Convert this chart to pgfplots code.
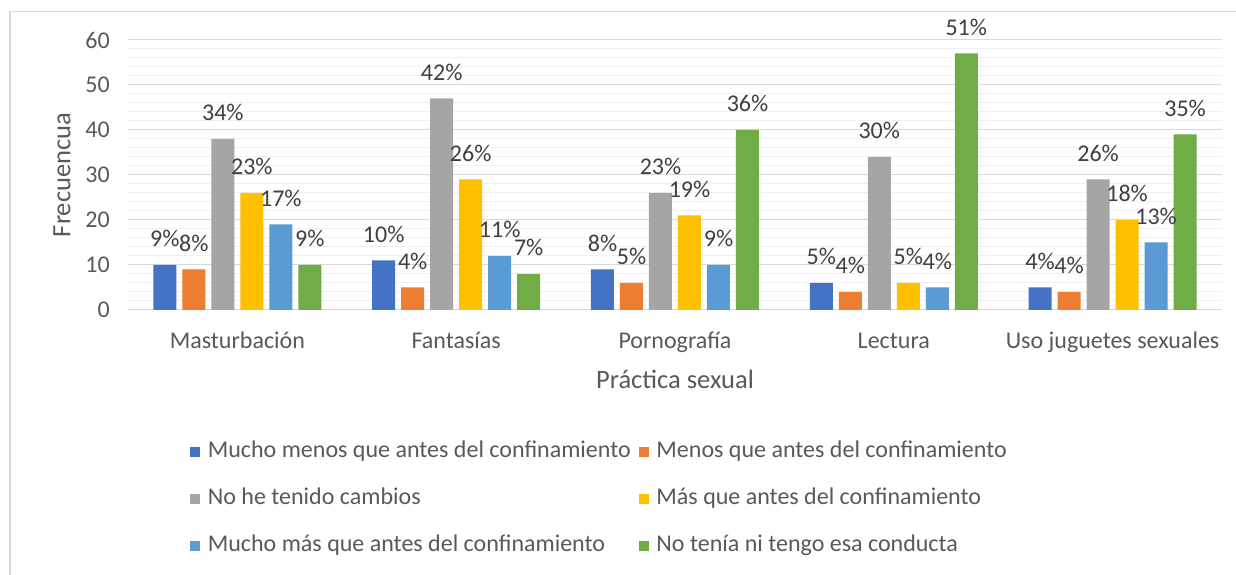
\documentclass[border=0pt]{standalone}
\usepackage{pgfplots}
\usepackage{pgfplotstable}
\pgfplotsset{compat=1.18}
\usepackage{fontspec}
\setmainfont{Carlito}
\definecolor{c1}{HTML}{4472C4}
\definecolor{c2}{HTML}{ED7D31}
\definecolor{c3}{HTML}{A5A5A5}
\definecolor{c4}{HTML}{FFC000}
\definecolor{c5}{HTML}{5B9BD5}
\definecolor{c6}{HTML}{70AD47}
\definecolor{txt}{HTML}{595959}
\definecolor{lbl}{HTML}{404040}
\definecolor{grmaj}{HTML}{D9D9D9}
\definecolor{grmin}{HTML}{F0F0F0}
\newcommand\cf{\fontsize{24pt}{28pt}\selectfont}
\newcommand\tf{\fontsize{26.5pt}{30pt}\selectfont}
\pgfplotstableread{
x a b c d e f la lb lc ld le lf
0 10 9 38 26 19 10 9 8 34 23 17 9
1 11 5 47 29 12 8 10 4 42 26 11 7
2 9 6 26 21 10 40 8 5 23 19 9 36
3 6 4 34 6 5 57 5 4 30 5 4 51
4 5 4 29 20 15 39 4 4 26 18 13 35
}\data
\begin{document}
\begin{tikzpicture}
\useasboundingbox (0,0) rectangle (1236pt,575pt);
\fill[white] (0,0) rectangle (1236pt,575pt);
\draw[grmaj, line width=1.5pt] (10pt,0) -- (10pt,563.5pt) -- (1236pt,563.5pt);
\begin{axis}[
  at={(128pt,265pt)}, anchor=south west,
  scale only axis, width=1094pt, height=270pt,
  ybar=6pt, bar width=23pt,
  xmin=-0.5, xmax=4.5, ymin=0, ymax=60,
  clip=false,
  axis x line*=bottom, axis y line*=left,
  x axis line style={grmaj, line width=1pt},
  y axis line style={draw=none},
  xtick={0,1,2,3,4},
  xticklabels={Masturbación, Fantasías, Pornografía, Lectura, Uso juguetes sexuales},
  ytick={0,10,...,60},
  minor y tick num=4,
  major tick length=0pt, minor tick length=0pt,
  tick style={draw=none},
  ymajorgrids, yminorgrids,
  major grid style={grmaj, line width=1pt},
  minor grid style={grmin, line width=1pt},
  /pgf/number format/assume math mode=true,
  ticklabel style={font=\cf, text=txt},
  yticklabel style={anchor=east, inner sep=0pt, xshift=-18pt},
  xticklabel style={anchor=base, inner sep=0pt, yshift=-39pt},
  ylabel={Frecuencua},
  ylabel style={font=\tf, text=txt, at={(axis description cs:-0.0603,0.5)}, anchor=center},
  xlabel={Práctica sexual},
  xlabel style={font=\tf, text=txt, at={(axis description cs:0.5,0)}, anchor=base, inner sep=0pt, yshift=-79pt},
  legend columns=2,
  legend cell align=left,
  legend style={draw=none, fill=none, inner sep=0pt, outer sep=0pt, font=\cf, text=txt,
    at={(axis description cs:0.0567,-0.4720)}, anchor=north west,
    row sep=18pt,
    nodes={inner xsep=7.8pt, inner ysep=3pt, text height=17pt, text depth=6pt},
    /tikz/every even column/.append style={column sep=0pt}},
  legend image code/.code={\fill[#1] (0pt,-5pt) rectangle (10pt,5pt);},
  nodes near coords={\pgfplotspointmeta\%},
  point meta=explicit symbolic,
  every node near coord/.append style={font=\cf, text=lbl, anchor=base, inner sep=0pt, yshift=18pt},
]
\addplot[fill=c1, draw=none] table[x=x, y=a, meta=la] {\data};
\addplot[fill=c2, draw=none] table[x=x, y=b, meta=lb] {\data};
\addplot[fill=c3, draw=none] table[x=x, y=c, meta=lc] {\data};
\addplot[fill=c4, draw=none] table[x=x, y=d, meta=ld] {\data};
\addplot[fill=c5, draw=none] table[x=x, y=e, meta=le] {\data};
\addplot[fill=c6, draw=none] table[x=x, y=f, meta=lf] {\data};
\legend{Mucho menos que antes del confinamiento, Menos que antes del confinamiento, No he tenido cambios, Más que antes del confinamiento, Mucho más que antes del confinamiento, No tenía ni tengo esa conducta}
\end{axis}
\end{tikzpicture}
\end{document}
